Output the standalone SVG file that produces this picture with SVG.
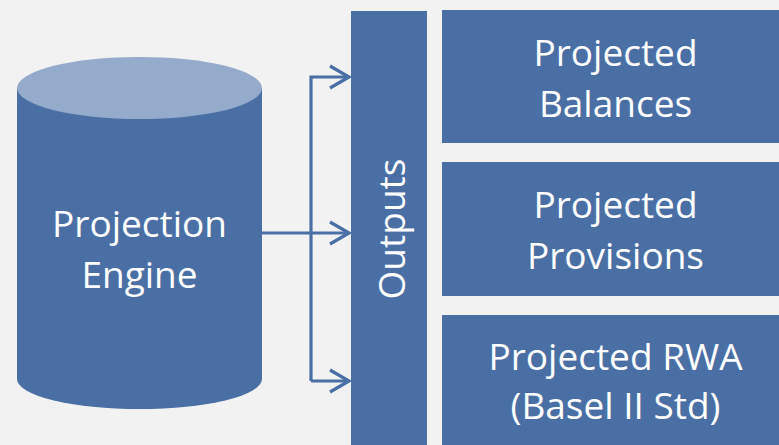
<svg xmlns="http://www.w3.org/2000/svg" width="779" height="445" viewBox="0 0 779 445">
  <style>
    .fill { fill: #4a6fa5; }
    .lbl { font-family: "Open Sans", "Liberation Sans", sans-serif; font-size: 37px; fill: #ffffff; text-anchor: middle; }
    .conn { fill: none; stroke: #4a6fa5; stroke-width: 3.2; }
  </style>
  <defs>
    <marker id="arr" markerUnits="userSpaceOnUse" viewBox="-24 -14 26 28" markerWidth="26" markerHeight="28" refX="0" refY="0" orient="auto">
      <path d="M-19,-11 L0,0 L-19,11" fill="none" stroke="#4a6fa5" stroke-width="3.2"/>
    </marker>
  </defs>
  <rect x="0" y="0" width="779" height="445" fill="#f2f2f2"/>

  <g id="engine">
    <path class="fill" d="M17,88 L17,379 A122.5,30 0 0 0 262,379 L262,88 Z"/>
    <ellipse cx="139.5" cy="88" rx="122.5" ry="31" fill="#95abcb"/>
    <text class="lbl" x="139.5" y="237">Projection</text>
    <text class="lbl" x="139.5" y="288">Engine</text>
  </g>

  <g id="connectors">
    <path class="conn" d="M262,233 L349,233" marker-end="url(#arr)"/>
    <path class="conn" d="M311,381 L311,77 L349,77" marker-end="url(#arr)"/>
    <path class="conn" d="M311,381 L349,381" marker-end="url(#arr)"/>
  </g>

  <g id="outputs">
    <rect class="fill" x="351" y="11" width="76" height="440"/>
    <text class="lbl" transform="translate(405,229) rotate(-90)" x="0" y="0">Outputs</text>
  </g>

  <g id="balances">
    <rect class="fill" x="442" y="10" width="350" height="133"/>
    <text class="lbl" x="615.5" y="66">Projected</text>
    <text class="lbl" x="615.5" y="117">Balances</text>
  </g>

  <g id="provisions">
    <rect class="fill" x="442" y="162" width="350" height="134"/>
    <text class="lbl" x="615.5" y="218">Projected</text>
    <text class="lbl" x="615.5" y="269">Provisions</text>
  </g>

  <g id="rwa">
    <rect class="fill" x="442" y="315" width="350" height="140"/>
    <text class="lbl" x="615.5" y="370">Projected RWA</text>
    <text class="lbl" x="615.5" y="419">(Basel II Std)</text>
  </g>
</svg>
